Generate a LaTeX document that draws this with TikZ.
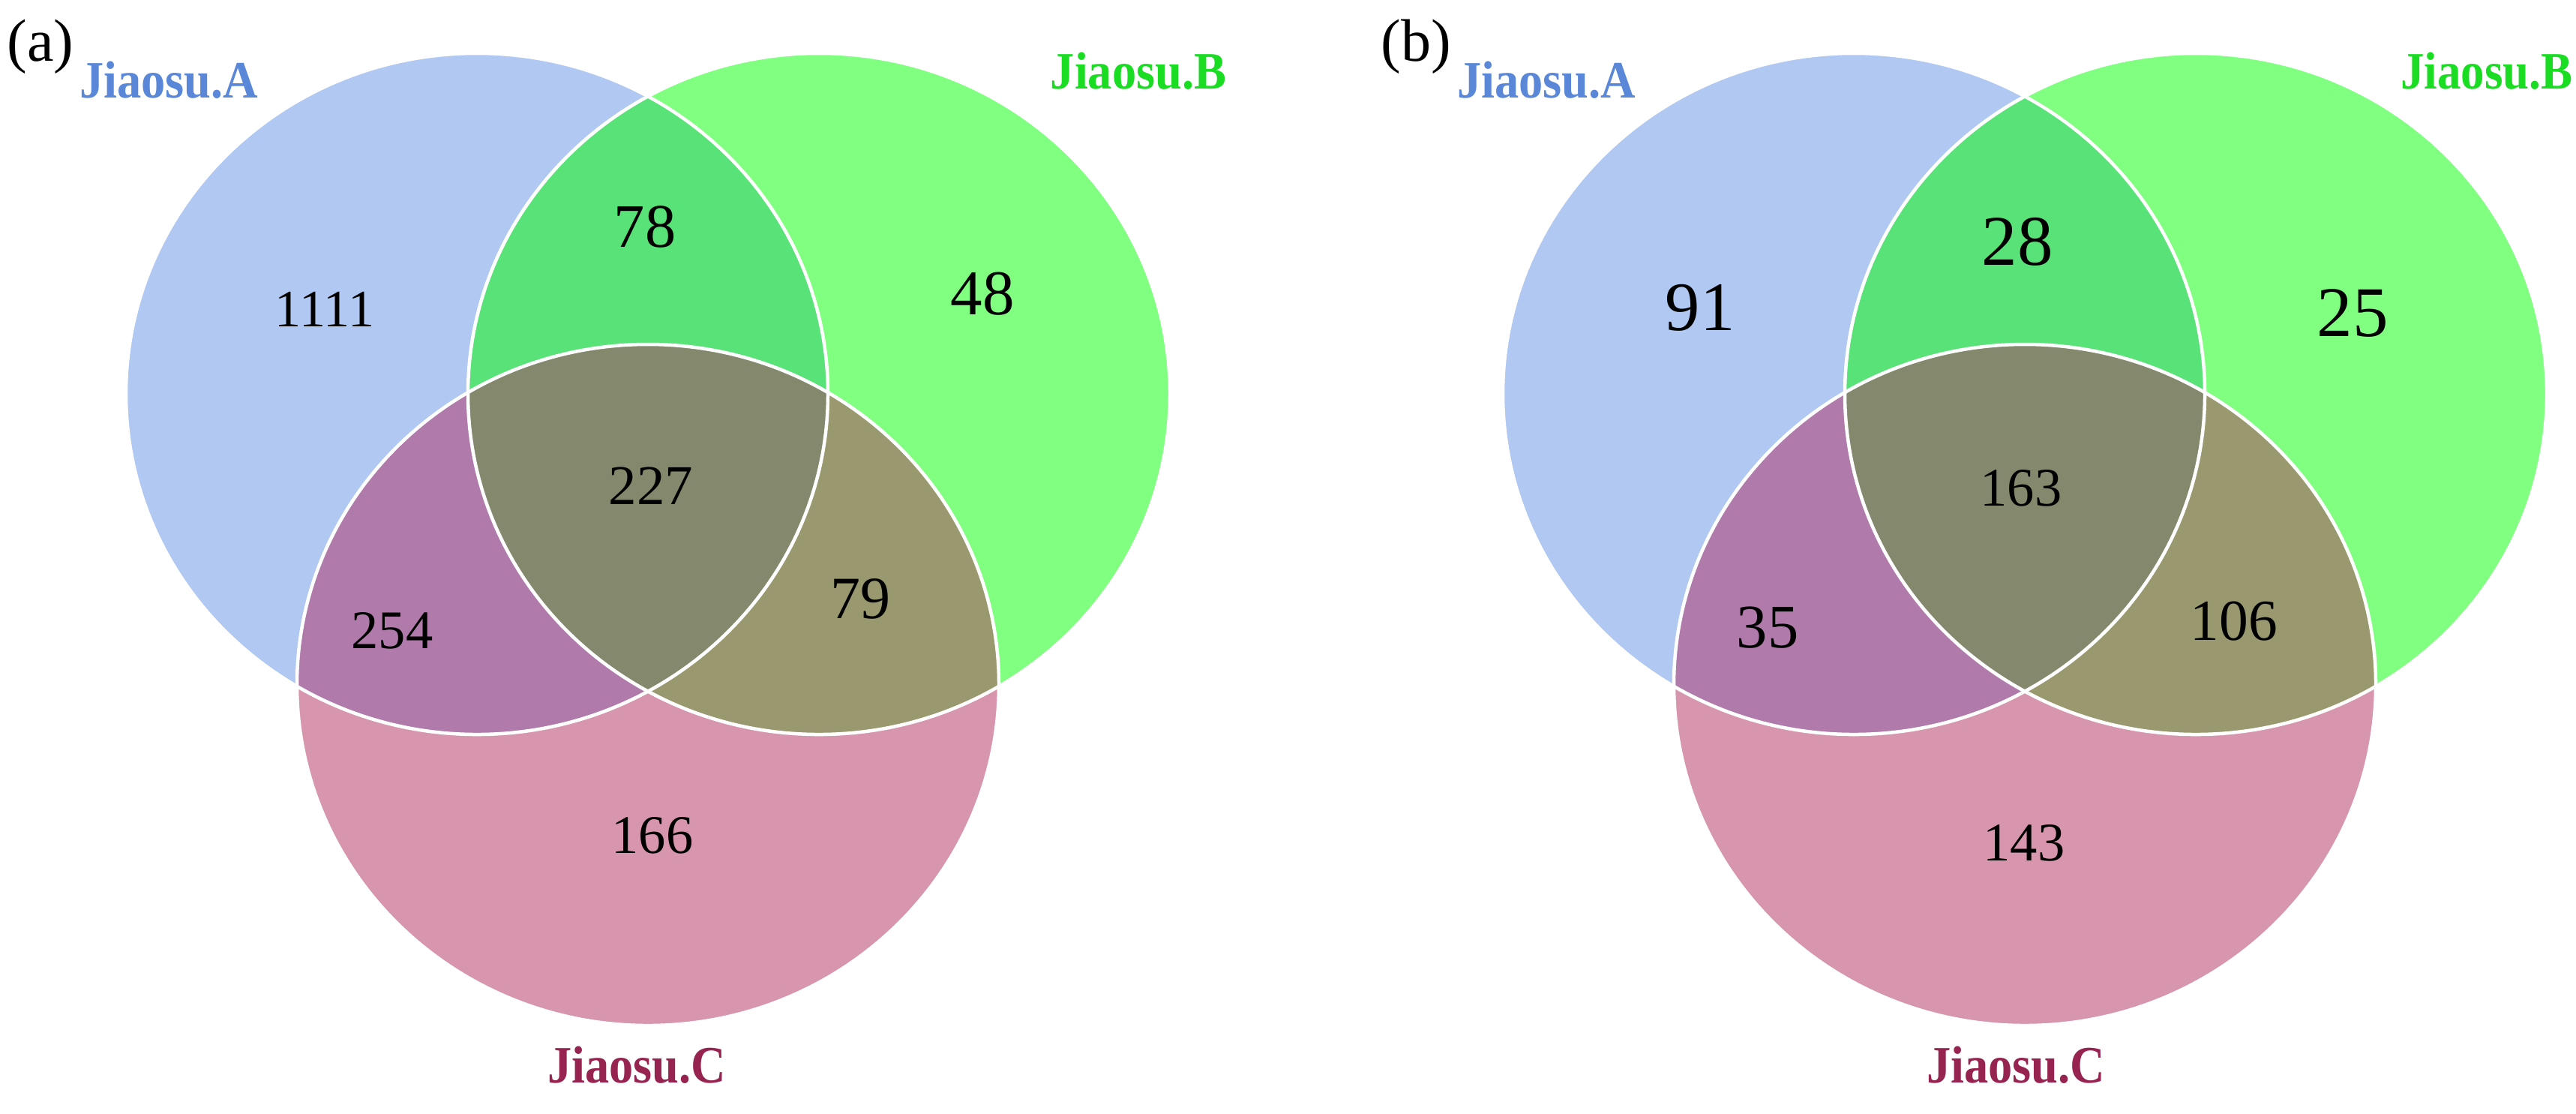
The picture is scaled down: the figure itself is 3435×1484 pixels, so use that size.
\documentclass[tikz,border=0pt]{standalone}
\usepackage{fontspec}
\setmainfont{Liberation Serif}
\definecolor{cA}{RGB}{176,200,242}
\definecolor{cB}{RGB}{128,255,128}
\definecolor{cC}{RGB}{216,150,174}
\definecolor{cAB}{RGB}{88,226,120}
\definecolor{cAC}{RGB}{176,122,170}
\definecolor{cBC}{RGB}{153,152,110}
\definecolor{cABC}{RGB}{132,137,110}
\definecolor{tA}{RGB}{90,135,215}
\definecolor{tB}{RGB}{25,220,35}
\definecolor{tC}{RGB}{150,35,80}
\newcommand\ellA{(636,525) ellipse [x radius=93.6pt, y radius=90.8pt]}
\newcommand\ellB{(1092,525) ellipse [x radius=93.6pt, y radius=90.8pt]}
\newcommand\ellC{(864,913) ellipse [x radius=93.6pt, y radius=90.8pt]}
\newcommand\fs[1]{\fontsize{#1}{#1}\selectfont}
\begin{document}
\begin{tikzpicture}[x=0.2pt,y=-0.2pt,
  setlabel/.style={inner sep=0pt, font=\fs{14pt}\bfseries},
  numlabel/.style={inner sep=0pt, text=black},
  panellabel/.style={inner sep=0pt, font=\fs{16pt}},
  outline/.style={draw=white, line width=0.9pt}]
\useasboundingbox (0,0) rectangle (3435,1484);
\fill[white] (0,0) rectangle (3435,1484);
% ---------- panel (a)
\begin{scope}
\fill[cA] \ellA; \fill[cB] \ellB; \fill[cC] \ellC;
\begin{scope}\clip \ellA; \fill[cAB] \ellB; \fill[cAC] \ellC; \end{scope}
\begin{scope}\clip \ellB; \fill[cBC] \ellC; \clip \ellA; \fill[cABC] \ellC; \end{scope}
\path[outline] \ellA; \path[outline] \ellB; \path[outline] \ellC;
\node[panellabel] (pa) at (54,62) {(a)};
\node[setlabel, text=tA] (aA) at (225,107) {\scalebox{0.92}[1]{Jiaosu.A}};
\node[setlabel, text=tB] (aB) at (1518,95) {\scalebox{0.92}[1]{Jiaosu.B}};
\node[setlabel, text=tC] (aC) at (849,1420) {\scalebox{0.92}[1]{Jiaosu.C}};
\node[numlabel, font=\fs{14pt}] (a1) at (433,412) {1111};
\node[numlabel, font=\fs{16.5pt}] (a2) at (860,302) {78};
\node[numlabel, font=\fs{17pt}] (a3) at (1310,392) {48};
\node[numlabel, font=\fs{15pt}] (a4) at (868,648) {227};
\node[numlabel, font=\fs{14.5pt}] (a5) at (523,841) {254};
\node[numlabel, font=\fs{16pt}] (a6) at (1147,798) {79};
\node[numlabel, font=\fs{14.5pt}] (a7) at (870,1114) {166};
\end{scope}
% ---------- panel (b)
\begin{scope}[shift={(1836,0)}]
\fill[cA] \ellA; \fill[cB] \ellB; \fill[cC] \ellC;
\begin{scope}\clip \ellA; \fill[cAB] \ellB; \fill[cAC] \ellC; \end{scope}
\begin{scope}\clip \ellB; \fill[cBC] \ellC; \clip \ellA; \fill[cABC] \ellC; \end{scope}
\path[outline] \ellA; \path[outline] \ellB; \path[outline] \ellC;
\node[panellabel] (pb) at (52,62) {(b)};
\node[setlabel, text=tA] (bA) at (226,107) {\scalebox{0.92}[1]{Jiaosu.A}};
\node[setlabel, text=tB] (bB) at (1480,95) {\scalebox{0.9}[1]{Jiaosu.B}};
\node[setlabel, text=tC] (bC) at (852,1420) {\scalebox{0.92}[1]{Jiaosu.C}};
\node[numlabel, font=\fs{18.5pt}] (b1) at (431,410) {91};
\node[numlabel, font=\fs{19pt}] (b2) at (854,322) {28};
\node[numlabel, font=\fs{19pt}] (b3) at (1301,417) {25};
\node[numlabel, font=\fs{14.5pt}] (b4) at (859,651) {163};
\node[numlabel, font=\fs{16.5pt}] (b5) at (521,837) {35};
\node[numlabel, font=\fs{15.5pt}] (b6) at (1143,828) {106};
\node[numlabel, font=\fs{14.5pt}] (b7) at (863,1124) {143};
\end{scope}
\end{tikzpicture}
\end{document}
